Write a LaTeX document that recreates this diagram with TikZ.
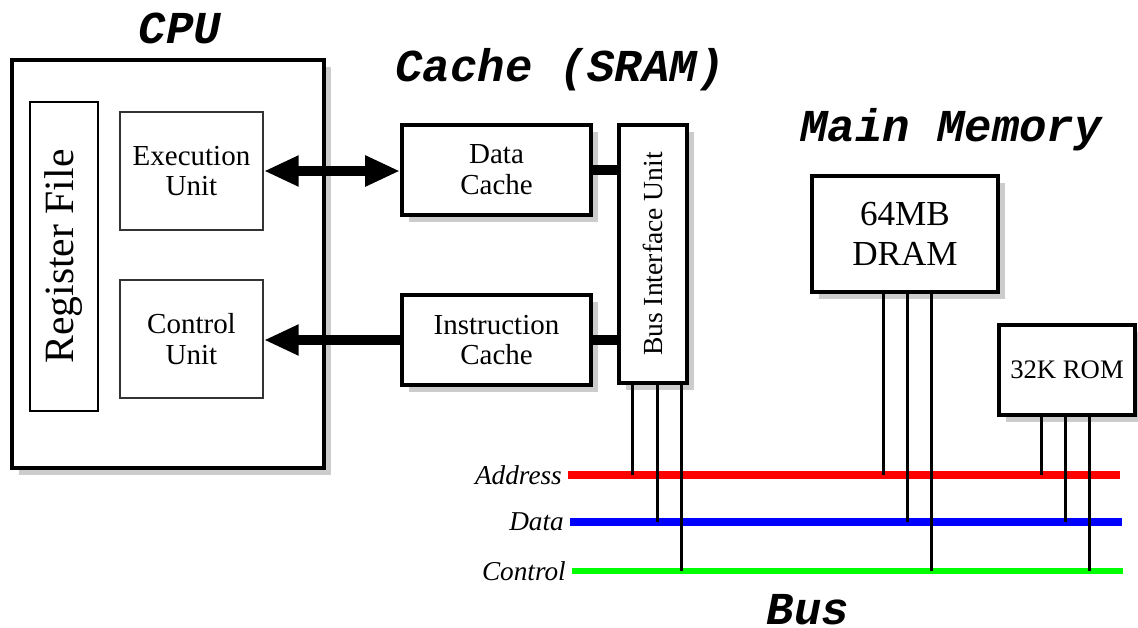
\documentclass[tikz,border=0pt]{standalone}
\usepackage{fontspec}
\setmainfont{Liberation Serif}
\setmonofont{Liberation Mono}
\usetikzlibrary{arrows.meta,shadows,calc}

\tikzset{
  title/.style={font=\fontsize{26}{28}\selectfont\ttfamily\bfseries\itshape},
  block/.style={draw, line width=2.3pt, fill=white, inner sep=0pt, align=center,
    drop shadow={shadow xshift=4pt, shadow yshift=-4pt, fill=black!20, opacity=1},
    font=\fontsize{16.5}{17.5}\selectfont},
  unit/.style={draw=black!80, line width=1.1pt, inner sep=0pt, align=center,
    font=\fontsize{16.5}{17.5}\selectfont},
  fat/.style={line width=6.2pt},
  tap/.style={line width=1.7pt},
  busline/.style={line width=4.5pt},
  buslabel/.style={anchor=east, font=\fontsize{15.5}{17}\selectfont\itshape}
}

\begin{document}
\begin{tikzpicture}[x=0.02cm, y=-0.02cm, >={Triangle[length=19.8pt,width=16.4pt]}]
  \useasboundingbox (0,0) rectangle (1138,628);

  % CPU
  \node[block, minimum width=6.24cm, minimum height=8.16cm] (cpu) at (168,264) {};
  \node[title] (cputitle) at (180,28) {CPU};
  \node[draw, line width=0.8pt, inner sep=0pt, rotate=90, minimum width=6.18cm, minimum height=1.36cm,
    font=\fontsize{23.7}{26}\selectfont] (regs) at (64,256.5) {Register File};
  \node[unit, minimum width=2.86cm, minimum height=2.36cm] (exec) at (191.5,171) {Execution\\Unit};
  \node[unit, minimum width=2.86cm, minimum height=2.36cm] (ctrl) at (191.5,339) {Control\\Unit};

  % cache
  \node[title] (cachetitle) at (560,70) {Cache (SRAM)};
  \node[block, minimum width=3.78cm, minimum height=1.8cm] (dcache) at (496.5,170) {Data\\Cache};
  \node[block, minimum width=3.78cm, minimum height=1.8cm] (icache) at (496.5,340) {Instruction\\Cache};
  \node[block, minimum width=1.36cm, minimum height=5.16cm,
    label={[rotate=90, font=\fontsize{15.7}{17}\selectfont]center:Bus Interface Unit}] (biu) at (653,254) {};

  \draw[fat,<->] (exec.east) -- (exec.east -| dcache.west);
  \draw[fat,->] (icache.west) -- (icache.west -| ctrl.east);
  \draw[line width=5.7pt] (dcache.east) -- (dcache.east -| biu.west);
  \draw[line width=5.7pt] (icache.east) -- (icache.east -| biu.west);

  % main memory
  \node[title] (memtitle) at (951,130) {Main Memory};
  \node[block, minimum width=3.72cm, minimum height=2.32cm, font=\fontsize{20}{23}\selectfont] (dram) at (905,234) {64MB\\DRAM};
  \node[block, minimum width=2.72cm, minimum height=1.8cm, font=\fontsize{15.2}{17}\selectfont] (rom) at (1067,370) {32K ROM};

  % bus
  \coordinate (addrL) at (568,475); \coordinate (addrR) at (1120,475);
  \coordinate (dataL) at (570,522); \coordinate (dataR) at (1122,522);
  \coordinate (ctrlL) at (572,571); \coordinate (ctrlR) at (1123,571);
  \draw[busline, red] (addrL) -- (addrR);
  \draw[busline, blue] (dataL) -- (dataR);
  \draw[line width=3.6pt, green] (ctrlL) -- (ctrlR);
  \node[buslabel] (addrlabel) at (addrL) {Address};
  \node[buslabel] (datalabel) at (dataL) {Data};
  \node[buslabel] (ctrllabel) at (ctrlL) {Control};
  \node[title] (bustitle) at (808,610) {Bus};

  \foreach \xx/\busname in {632/addr,657/data,681/ctrl}
    \draw[tap] (\xx,0 |- biu.south) -- (\xx,0 |- \busname L);
  \foreach \xx/\busname in {883/addr,907/data,931/ctrl}
    \draw[tap] (\xx,0 |- dram.south) -- (\xx,0 |- \busname L);
  \foreach \xx/\busname in {1041/addr,1065/data,1089/ctrl}
    \draw[tap] (\xx,0 |- rom.south) -- (\xx,0 |- \busname L);
\end{tikzpicture}
\end{document}
